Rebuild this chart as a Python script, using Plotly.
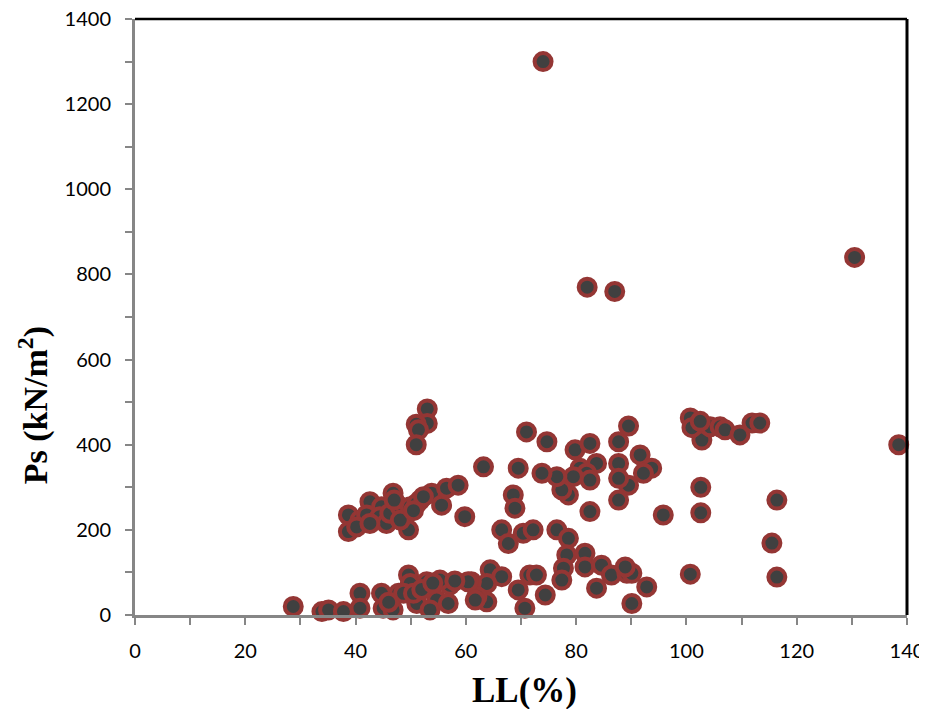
import plotly.graph_objects as go

# Liquid limit LL (%) and Ps (kN/m2) values
ll = [
    74, 130.5, 82, 87, 138.5,
    100.7, 101.6, 102.8, 104.3, 106.1, 107, 109.7, 111.9, 113.3, 101, 102.5,
    102.6, 102.6, 116.4, 115.5, 116.4, 100.7, 95.8,
    71.0, 74.7, 79.8, 82.5, 87.7, 89.5, 91.6, 93.7, 92.2, 89.5, 87.7, 87.7, 87.7,
    83.7, 80.7, 81.9, 82.5, 79.5, 78.6, 77.4, 76.5, 73.8, 69.5, 63.2, 68.6, 68.9,
    82.5, 66.5, 67.7, 70.4, 72.2, 76.5, 78.6, 78.3, 81.6, 77.7, 77.4, 81.6, 84.6,
    86.4, 89.2, 90.1, 88.9, 92.8, 83.7, 90.1, 64.4, 66.5, 63.8, 63.8, 69.5, 71.6,
    72.8, 74.4, 70.7, 61.0, 62.0,
    53.0, 53.0, 51.0, 51.4, 51.0,
    38.7, 38.7, 42.6, 44.7, 46.8, 49.6, 51.7, 53.8, 55.6, 56.5, 58.6, 59.8, 40.8,
    42.0, 44.4, 45.6, 46.2, 48.1, 49.9, 51.1, 52.3, 40.2, 42.6, 48.1, 47.0, 50.5,
    28.7, 33.9, 35.1, 37.8, 40.8, 40.8, 44.7, 45.0, 46.8, 47.8, 49.6, 49.9, 51.1,
    52.9, 53.8, 54.7, 53.5, 57.1, 56.8, 60.4, 61.7, 48.7, 50.5, 55.3, 46.0, 52.0,
    58.0, 54.0,
]
ps = [
    1300, 840, 770, 760, 400,
    463, 442, 411, 442, 442, 435, 423, 451, 451, 440, 455,
    300, 240, 270, 169, 89, 96, 235,
    430, 407, 388, 403, 407, 444, 376, 345, 333, 305, 270, 356, 321,
    356, 345, 333, 317, 325, 282, 294, 325, 333, 345, 348, 282, 251,
    243, 200, 168, 192, 200, 200, 180, 141, 145, 110, 82, 113, 117,
    94, 98, 98, 113, 66, 63, 27, 106, 90, 74, 31, 59, 94,
    94, 47, 16, 78, 43,
    484, 450, 448, 435, 400,
    235, 196, 266, 254, 286, 200, 270, 286, 258, 298, 305, 231, 223,
    235, 231, 215, 239, 254, 254, 262, 278, 207, 215, 223, 270, 245,
    20, 8, 12, 8, 51, 16, 51, 16, 12, 51, 94, 74, 27,
    78, 66, 35, 12, 70, 27, 78, 35, 51, 51, 82, 30, 60,
    80, 75,
]

x_ticks = [0, 20, 40, 60, 80, 100, 120, 140]
y_ticks = [0, 200, 400, 600, 800, 1000, 1200, 1400]
x_title = "LL(%)"
y_title = "Ps (kN/m<sup>2</sup>)"

fig = go.Figure()
fig.add_trace(go.Scatter(
    x=ll, y=ps, mode="markers",
    marker=dict(size=17, color="#404040", line=dict(color="#943634", width=4)),
    showlegend=False, cliponaxis=False,
))

tickfont = dict(family="Lato, Open Sans, sans-serif", size=20, color="#000000")
axis_common = dict(
    showgrid=False, zeroline=False, showline=True, linecolor="#868686", linewidth=3,
    ticks="outside", ticklen=7, tickwidth=1.5, tickcolor="#868686", tickfont=tickfont,
    automargin=False, ticklabeloverflow="allow",
)

fig.update_xaxes(
    range=[0, 140], tickvals=x_ticks, ticktext=[str(v) for v in x_ticks],
    minor=dict(dtick=10, tick0=0, ticks="outside", ticklen=7, tickcolor="#868686", tickwidth=1.5),
    ticklabelstandoff=9,
    **axis_common,
)
fig.update_yaxes(
    range=[0, 1400], tickvals=y_ticks, ticktext=[str(v) for v in y_ticks],
    minor=dict(dtick=100, tick0=0, ticks="outside", ticklen=7, tickcolor="#868686", tickwidth=1.5),
    ticklabelstandoff=10,
    **axis_common,
)
fig.update_layout(
    width=927, height=709,
    margin=dict(l=127, r=28, t=11, b=102, autoexpand=False),
    plot_bgcolor="white", paper_bgcolor="white",
    shapes=[
        dict(type="line", xref="paper", yref="paper", x0=0, x1=1, y0=1, y1=1,
             line=dict(color="black", width=2.5)),
        dict(type="line", xref="paper", yref="paper", x0=1, x1=1, y0=0, y1=1,
             line=dict(color="black", width=3)),
    ],
    annotations=[
        dict(text="<b>" + x_title + "</b>", xref="paper", yref="paper",
             x=0.505, y=-0.126, xanchor="center", yanchor="middle", showarrow=False,
             font=dict(family="Liberation Serif, serif", size=35, color="#000000")),
        dict(text="<b>" + y_title + "</b>", xref="paper", yref="paper", textangle=-90,
             x=-0.132, y=0.352, xanchor="center", yanchor="middle", showarrow=False,
             font=dict(family="Liberation Serif, serif", size=34, color="#000000")),
    ],
)
fig.write_html("out.html")
